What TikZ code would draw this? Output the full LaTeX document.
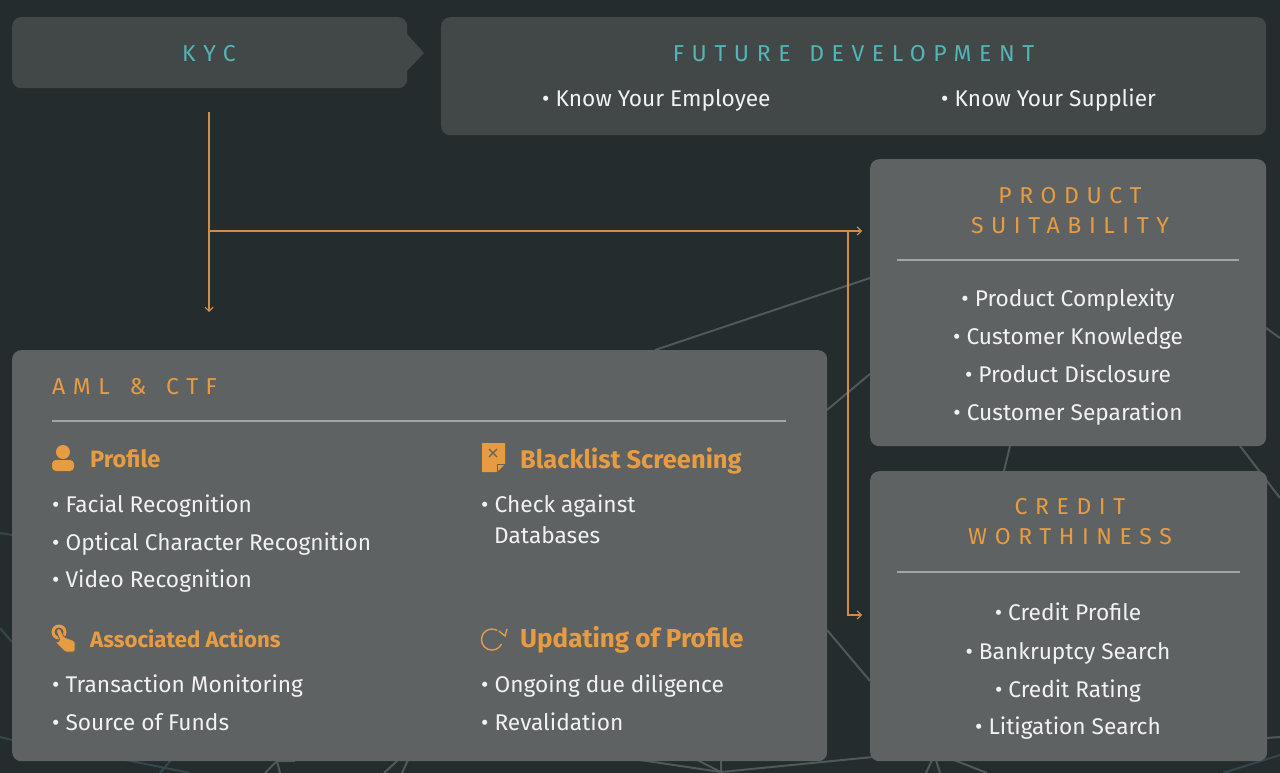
\documentclass[tikz,border=0pt]{standalone}
\usepackage{fontspec}
\setmainfont{Fira Sans}
\newfontfamily\spacedfont[LetterSpace=33]{Fira Sans}
\usepackage{tikz}
\usetikzlibrary{arrows.meta, positioning}
\definecolor{pagebg}{HTML}{252C2E}
\definecolor{boxdark}{HTML}{424748}
\definecolor{boxlight}{HTML}{5E6262}
\definecolor{webline}{HTML}{505859}
\definecolor{webteal}{HTML}{33484A}
\definecolor{orangehead}{HTML}{E89C42}
\definecolor{linkline}{HTML}{CC8F4A}
\definecolor{tealhead}{HTML}{54B5B5}
\definecolor{rulegray}{HTML}{A3A6A6}
\begin{document}
\begin{tikzpicture}[
    x=1pt, y=-1pt,
    panel/.style={fill=boxlight, rounded corners=9pt, inner sep=0pt, anchor=north west},
    topbox/.style={panel, fill=boxdark},
    arr/.style={-{Straight Barb[length=4pt,width=8pt]}, linkline, line width=1.2pt},
    web/.style={webline, line width=2pt},
    webdark/.style={webteal, line width=2pt},
    rulee/.style={rulegray, line width=1.6pt},
    tealtitle/.style={text=tealhead, inner sep=0pt, font=\fontsize{23}{26}\spacedfont, anchor=base},
    sidetitle/.style={text=orangehead, inner sep=0pt, font=\fontsize{23}{30}\spacedfont, align=center, anchor=center},
    grouphead/.style={text=orangehead, inner sep=0pt, anchor=base west},
    item/.style={text=white!95!black, inner sep=0pt, font=\fontsize{22.7}{26}\selectfont, anchor=base west},
    sideitem/.style={item, anchor=base},
  ]
    \fill[pagebg] (0,0) rectangle (1280,773);
    \useasboundingbox (0,0) rectangle (1280,773);

    % background web
    \draw[web] (655,350) -- (870,278);
    \draw[web] (827,410) -- (870,374);
    \draw[web] (827,630) -- (870,681);
    \draw[web] (1010,446) -- (1004,471);
    \draw[web] (1240,446) -- (1280,498);
    \draw[web] (1266,328) -- (1280,338);
    \draw[web] (1266,738) -- (1280,737);
    \draw[webdark] (1223,773) -- (1280,755);
    \draw[webdark] (0,533) -- (12,535);
    \draw[webdark] (0,628) -- (12,642);
    \draw[webdark] (0,737) -- (12,740);
    \draw[webdark] (126,760) -- (190,773);
    \draw[webdark] (171,760) -- (160,773);
    \draw[web] (265,773) -- (277,761) -- (295,761);
    \draw[web] (277,761) -- (280,773);
    \draw[web] (384,773) -- (398,760);
    \draw[web] (402,773) -- (408,760);
    \draw[web] (640,760) -- (721,772) -- (873,757);
    \draw[web] (697,760) -- (721,772) -- (721,760);
    \draw[web] (926,773) -- (932,760);
    \draw[web] (940,773) -- (936,760);
    \draw[web] (954,760) -- (987,773);

    % top row
    \node[topbox, minimum width=395pt, minimum height=71pt] (kyc) at (12,17) {};
    \fill[boxdark] (407,34) -- (424,53) -- (407,71) -- cycle;
    \node[tealtitle] (kyctitle) at (209,62) {KYC};
    \node[topbox, minimum width=825pt, minimum height=118pt] (future) at (441,17) {};
    \node[tealtitle] (futuretitle) at (853.5,62) {FUTURE\hspace{5pt} DEVELOPMENT};
    \node[item] (employee) at (542,107) {• Know Your Employee};
    \node[item] (supplier) at (941,107) {• Know Your Supplier};

    % right column
    \node[panel, minimum width=396pt, minimum height=287pt] (product) at (870,159) {};
    \node[sidetitle] (producttitle) at (1070,210.5) {PRODUCT\\SUITABILITY};
    \draw[rulee] (897,260) -- (1239,260);
    \node[sideitem] (pitem1) at (1068,306) {• Product Complexity};
    \node[sideitem] (pitem2) at (1068,344) {• Customer Knowledge};
    \node[sideitem] (pitem3) at (1068,382) {• Product Disclosure};
    \node[sideitem] (pitem4) at (1068,420) {• Customer Separation};

    \node[panel, minimum width=397pt, minimum height=290pt] (credit) at (870,471) {};
    \node[sidetitle] (credittitle) at (1070,521.5) {CREDIT\\WORTHINESS};
    \draw[rulee] (897,572) -- (1240,572);
    \node[sideitem] (citem1) at (1068,620) {• Credit Profile};
    \node[sideitem] (citem2) at (1068,659) {• Bankruptcy Search};
    \node[sideitem] (citem3) at (1068,697) {• Credit Rating};
    \node[sideitem] (citem4) at (1068,734) {• Litigation Search};

    % main panel
    \node[panel, minimum width=815pt, minimum height=411pt] (aml) at (12,350) {};
    \node[tealtitle, text=orangehead, anchor=base west] (amltitle) at (52,394) {AML\hspace{6pt} \&\hspace{6pt} CTF};
    \draw[rulee] (52,421) -- (786,421);

    \node[grouphead, font=\fontsize{23.6}{26}\selectfont\bfseries] (profile) at (90,467) {Profile};
    \fill[orangehead] (63,452) circle (7pt);
    \fill[orangehead, rounded corners=4pt] (52,471) -- (52,460) -- (74,460) -- (74,471) -- cycle;
    \node[item] (fitem1) at (52,512) {• Facial Recognition};
    \node[item] (fitem2) at (52,550) {• Optical Character Recognition};
    \node[item] (fitem3) at (52,587) {• Video Recognition};

    \node[grouphead, font=\fontsize{22.2}{26}\selectfont\bfseries] (assoc) at (90,647) {Associated Actions};
    \fill[orangehead] (59,632) circle (7.5pt);
    \fill[boxlight] (59,632) circle (4.5pt);
    \fill[orangehead, draw=boxlight, line width=0.8pt, rounded corners=1.5pt] (56,630) -- (60,628) -- (64,637) -- (75,641) -- (75,652) -- (65,652) -- (55,642) -- (60,641) -- cycle;
    \node[item] (aitem1) at (52,692) {• Transaction Monitoring};
    \node[item] (aitem2) at (52,730) {• Source of Funds};

    \node[grouphead, font=\fontsize{25.5}{28}\selectfont\bfseries] (black) at (520,468) {Blacklist Screening};
    \fill[orangehead] (482,443) -- (505,443) -- (505,464) -- (497,472) -- (482,472) -- cycle;
    \draw[boxlight, line width=1.3pt] (489,449) -- (497,457) (497,449) -- (489,457);
    \draw[boxlight, line width=0.8pt] (505,464) -- (497,464) -- (497,472);
    \node[item] (bitem1) at (481,512) {• Check against};
    \node[item] (bitem2) at (494,543) {Databases};

    \node[grouphead, font=\fontsize{26}{28}\selectfont\bfseries] (update) at (520,647) {Updating of Profile};
    \draw[orangehead, line width=1.4pt] (501.5,644) arc[start angle=-25, end angle=-300, radius=10.5pt];
    \draw[orangehead, line width=1.4pt] (499,631) -- (505,636) -- (507,629);
    \node[item] (uitem1) at (481,692) {• Ongoing due diligence};
    \node[item] (uitem2) at (481,730) {• Revalidation};

    % connectors
    \coordinate (kycout) at (209,112);
    \coordinate (junction) at (209,231);
    \coordinate (amlin) at (209,312);
    \coordinate (turn) at (848,231);
    \coordinate (productin) at (862,231);
    \coordinate (creditin) at (862,615);
    \draw[arr] (kycout) -- (amlin);
    \draw[arr] (junction) -- (productin);
    \draw[arr] (turn) |- (creditin);
\end{tikzpicture}
\end{document}
